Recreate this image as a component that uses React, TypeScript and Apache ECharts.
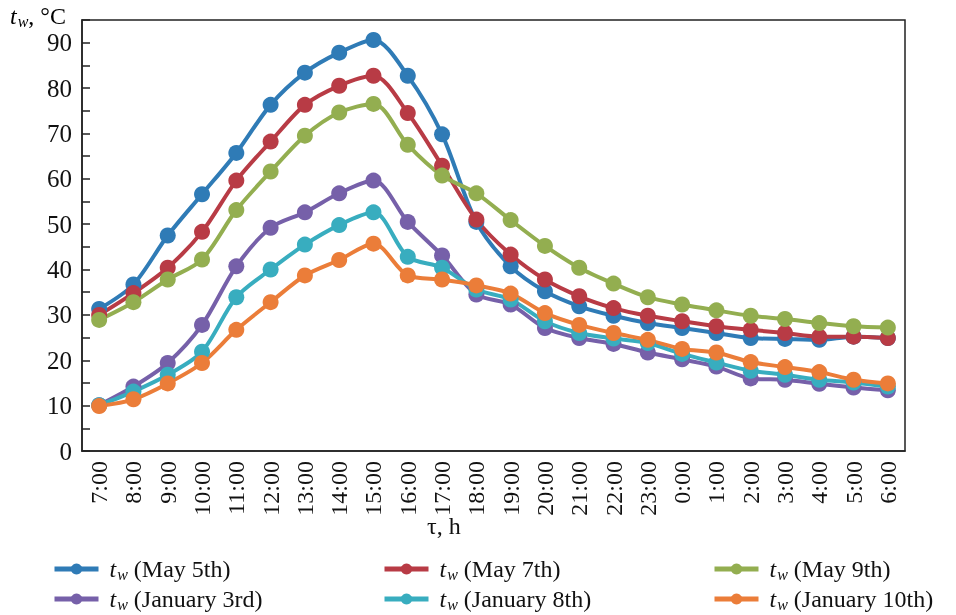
import React, { useEffect, useRef } from "react";
import * as echarts from "echarts";

const hours = ["7:00", "8:00", "9:00", "10:00", "11:00", "12:00", "13:00", "14:00", "15:00", "16:00", "17:00", "18:00", "19:00", "20:00", "21:00", "22:00", "23:00", "0:00", "1:00", "2:00", "3:00", "4:00", "5:00", "6:00"];

const may5 = [31.3, 36.7, 47.5, 56.6, 65.7, 76.3, 83.4, 87.8, 90.6, 82.7, 69.8, 50.5, 40.7, 35.2, 31.9, 29.8, 28.2, 27.1, 26.0, 24.9, 24.7, 24.5, 25.2, 24.9];
const may7 = [30.0, 34.8, 40.4, 48.3, 59.6, 68.2, 76.3, 80.5, 82.7, 74.5, 62.9, 51.0, 43.3, 37.8, 34.1, 31.5, 29.8, 28.6, 27.5, 26.7, 26.0, 25.2, 25.2, 24.9];
const may9 = [28.9, 32.8, 37.8, 42.2, 53.1, 61.6, 69.5, 74.6, 76.5, 67.5, 60.7, 56.8, 50.9, 45.2, 40.4, 36.9, 33.9, 32.3, 31.0, 29.8, 29.1, 28.2, 27.5, 27.2];
const jan3 = [10.1, 14.2, 19.4, 27.8, 40.7, 49.2, 52.6, 56.8, 59.6, 50.5, 43.1, 34.5, 32.3, 27.1, 24.9, 23.6, 21.7, 20.2, 18.6, 16.0, 15.7, 14.8, 14.0, 13.4];
const jan8 = [10.1, 13.1, 16.8, 21.9, 33.9, 40.0, 45.5, 49.8, 52.6, 42.8, 40.4, 35.6, 33.4, 28.6, 26.0, 24.8, 23.8, 21.4, 19.5, 17.7, 16.8, 15.7, 15.1, 14.2];
const jan10 = [9.9, 11.4, 14.9, 19.4, 26.7, 32.8, 38.7, 42.1, 45.7, 38.7, 37.8, 36.5, 34.7, 30.4, 27.8, 26.0, 24.5, 22.5, 21.7, 19.6, 18.5, 17.4, 15.7, 14.9];

const seriesNames = ["May 5th", "May 7th", "May 9th", "January 3rd", "January 8th", "January 10th"];
const seriesData = [may5, may7, may9, jan3, jan8, jan10];
const colors = ["#2f7bb6", "#b83b45", "#93ae50", "#7660a9", "#38adbf", "#eb7d39"];

const FONT = "Liberation Serif";

export default function App() {
  const ref = useRef<HTMLDivElement>(null);
  useEffect(() => {
    if (!ref.current) return;
    const chart = echarts.init(ref.current, null, { renderer: "svg" });
    const rich = {
      i: { fontStyle: "italic", fontSize: 24, fontFamily: FONT, color: "#111" },
      s: { fontStyle: "italic", fontSize: 16, fontFamily: FONT, color: "#111", padding: [10, 0, 0, 1] },
      n: { fontSize: 24, fontFamily: FONT, color: "#111" },
    };
    const legendPos = [
      [52, 571], [382, 571], [712, 571],
      [52, 601], [382, 601], [712, 601],
    ];
    const legends = seriesNames.map((name, k) => ({
      show: true,
      data: [name],
      left: legendPos[k][0],
      top: legendPos[k][1] - 14,
      padding: 0,
      itemWidth: 44,
      itemHeight: 14,
      lineStyle: { width: 5 },
      formatter: (n: string) => `{i|t}{s|w}{n| (${n})}`,
      textStyle: { rich, padding: [0, 0, 0, 6] },
    }));
    chart.setOption({
      animation: false,
      color: colors,
      textStyle: { fontFamily: FONT },
      grid: {
        left: 82,
        right: 51,
        top: 20,
        bottom: 164,
        show: true,
        borderColor: "#222",
        borderWidth: 1.5,
        backgroundColor: "transparent",
      },
      legend: legends,
      xAxis: {
        type: "category",
        data: hours,
        boundaryGap: true,
        axisLine: { lineStyle: { color: "#222", width: 1.5 } },
        axisTick: { inside: true, length: 8, interval: 0, lineStyle: { color: "#222", width: 1.5 } },
        axisLabel: {
          rotate: 90,
          interval: 0,
          margin: 10,
          fontSize: 24,
          fontFamily: FONT,
          color: "#111",
        },
        splitLine: { show: false },
      },
      yAxis: {
        type: "value",
        min: 0,
        max: 95,
        interval: 5,
        axisLine: { show: true, lineStyle: { color: "#222", width: 1.5 } },
        axisTick: { show: true, inside: true, length: 8, lineStyle: { color: "#222", width: 1.5 } },
        axisLabel: {
          margin: 10,
          fontSize: 25,
          fontFamily: FONT,
          color: "#111",
          formatter: (v: number) => (v % 10 === 0 ? String(v) : ""),
        },
        splitLine: { show: false },
      },
      graphic: [
        {
          type: "text",
          left: 10,
          top: 4,
          style: {
            text: "{i|t}{s|w}{n|, °C}",
            rich,
          },
        },
        {
          type: "text",
          left: 427,
          top: 514,
          style: {
            text: "τ, h",
            fontSize: 24,
            fontFamily: FONT,
            fill: "#111",
          },
        },
      ],
      series: seriesNames.map((name, k) => ({
        name,
        type: "line",
        data: seriesData[k],
        smooth: 0.3,
        symbol: "circle",
        symbolSize: 16,
        showSymbol: true,
        lineStyle: { width: 4, color: colors[k] },
        itemStyle: { color: colors[k] },
      })),
    });
    return () => chart.dispose();
  }, []);
  return <div ref={ref} style={{ position: "fixed", left: 0, top: 0, width: 956, height: 615 }} />;
}
